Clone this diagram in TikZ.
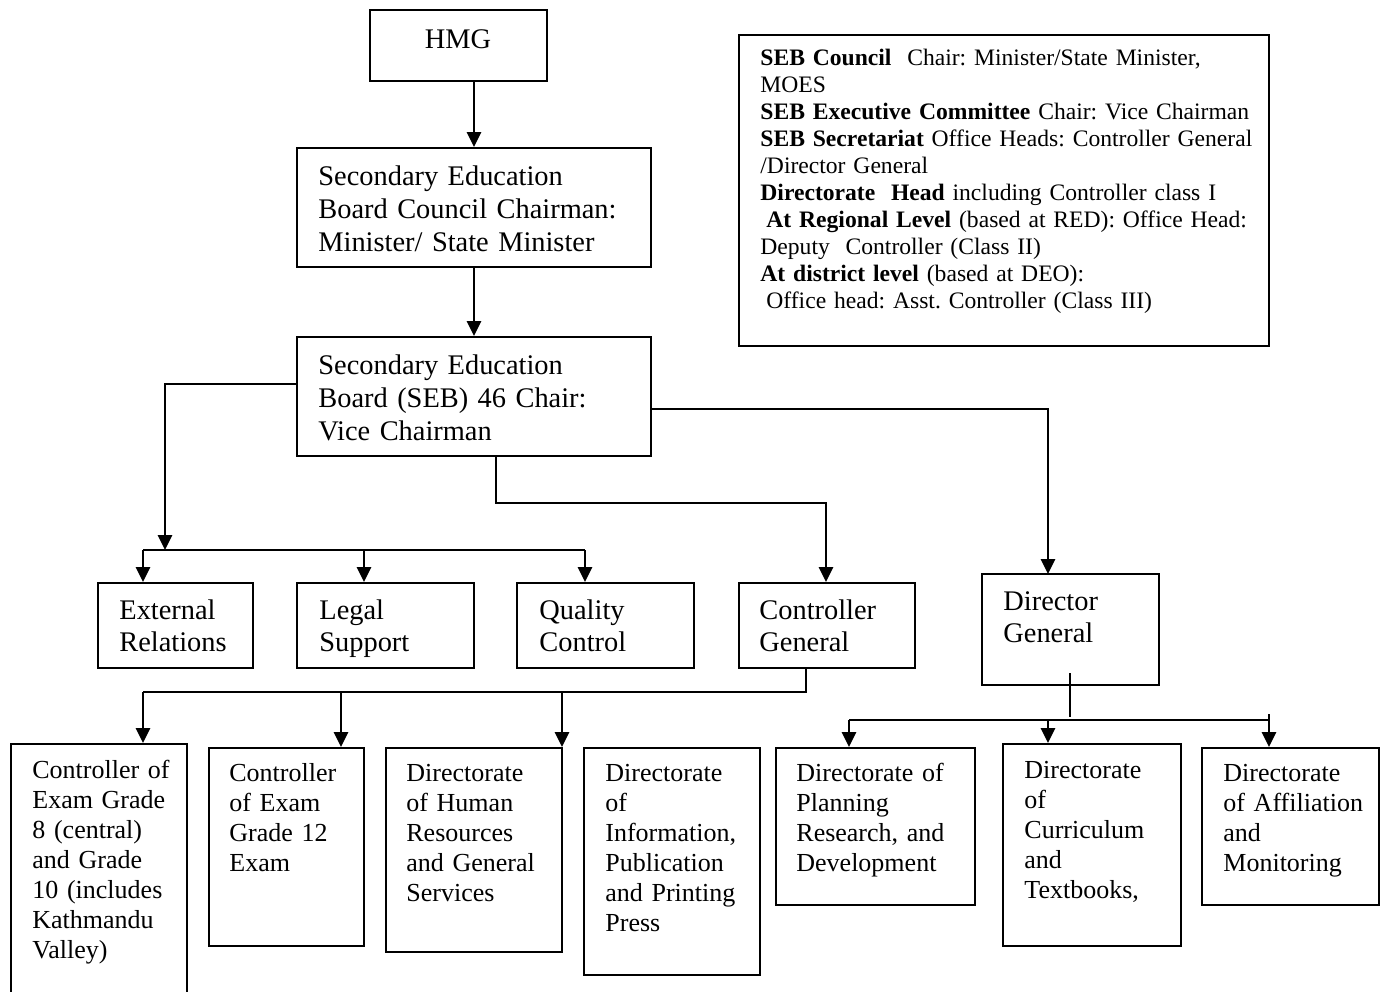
\documentclass[tikz,border=0pt]{standalone}
\usepackage{fontspec}
\setmainfont{Liberation Serif}
\usetikzlibrary{arrows.meta,fit}
\begin{document}
\frenchspacing
\begin{tikzpicture}[x=0.5pt,y=-0.5pt,
  box/.style={draw, line width=1pt, inner sep=0pt},
  conn/.style={line width=1pt},
  arr/.style={conn, -{Triangle[length=7.5pt,width=7.2pt]}},
  bigtxt/.style={inner sep=0pt, anchor=base west, align=left, text width=175pt,
    font=\fontsize{14.2}{16.5}\selectfont\frenchspacing},
  midtxt/.style={inner sep=0pt, anchor=base west, align=left, text width=80pt,
    font=\fontsize{14.2}{16}\selectfont\frenchspacing},
  smalltxt/.style={inner sep=0pt, anchor=base west, align=left, text width=85pt,
    font=\fontsize{13}{15}\selectfont\frenchspacing},
  notetxt/.style={inner sep=0pt, anchor=base west, align=left, text width=255pt,
    font=\fontsize{11.8}{13.5}\selectfont\frenchspacing}
]
\useasboundingbox (0,0) rectangle (1386,991);

% boxes
\node[box, fit={(370,10)(547,81)}] (hmg) {};
\node[box, fit={(297,148)(651,267)}] (council) {};
\node[box, fit={(297,337)(651,456)}] (seb) {};
\node[box, fit={(739,35)(1269,346)}] (note) {};
\node[box, fit={(98,583)(253,668)}] (ext) {};
\node[box, fit={(297,583)(474,668)}] (legal) {};
\node[box, fit={(517,583)(694,668)}] (qual) {};
\node[box, fit={(739,583)(915,668)}] (cg) {};
\node[box, fit={(982,574)(1159,685)}] (dg) {};
\node[box, fit={(11,744)(187,1005)}] (b1) {};
\node[box, fit={(209,748)(364,946)}] (b2) {};
\node[box, fit={(386,748)(562,952)}] (b3) {};
\node[box, fit={(584,748)(760,975)}] (b4) {};
\node[box, fit={(776,748)(975,905)}] (b5) {};
\node[box, fit={(1003,744)(1181,946)}] (b6) {};
\node[box, fit={(1202,748)(1379,905)}] (b7) {};

% texts
\node[inner sep=0pt, anchor=base, font=\fontsize{14.2}{16.5}\selectfont] (hmgT) at (458,48) {HMG};
\node[bigtxt] (councilT) at (318,185) {Secondary Education\\Board Council Chairman:\\Minister/ State Minister};
\node[bigtxt] (sebT) at (318,374) {Secondary Education\\Board (SEB) 46 Chair:\\Vice Chairman};
\node[midtxt] (extT) at (119,619) {External\\Relations};
\node[midtxt] (legalT) at (319,619) {Legal\\Support};
\node[midtxt] (qualT) at (539,619) {Quality\\Control};
\node[midtxt] (cgT) at (759,619) {Controller\\General};
\node[midtxt] (dgT) at (1003,610) {Director\\General};
\node[smalltxt] (b1T) at (32,778) {Controller of\\Exam Grade\\8 (central)\\and Grade\\10 (includes\\Kathmandu\\Valley)};
\node[smalltxt] (b2T) at (229,781) {Controller\\of Exam\\Grade 12\\Exam};
\node[smalltxt] (b3T) at (406,781) {Directorate\\of Human\\Resources\\and General\\Services};
\node[smalltxt] (b4T) at (605,781) {Directorate\\of\\Information,\\Publication\\and Printing\\Press};
\node[smalltxt] (b5T) at (796,781) {Directorate of\\Planning\\Research, and\\Development};
\node[smalltxt] (b6T) at (1024,778) {Directorate\\of\\Curriculum\\and\\Textbooks,};
\node[smalltxt] (b7T) at (1223,781) {Directorate\\of Affiliation\\and\\Monitoring};
\node[notetxt] (noteT) at (760,65) {\textbf{SEB Council}\ \ Chair: Minister/State Minister,\\
MOES\\
\textbf{SEB Executive Committee} Chair: Vice Chairman\\
\textbf{SEB Secretariat} Office Heads: Controller General\\
/Director General\\
\textbf{Directorate\ \ Head} including Controller class I\\
\hspace*{3pt}\textbf{At Regional Level} (based at RED): Office Head:\\
Deputy\ \ Controller (Class II)\\
\textbf{At district level} (based at DEO):\\
\hspace*{3pt}Office head: Asst. Controller (Class III)};

% junction coordinates
\coordinate (sebL) at (297,384);
\coordinate (busA) at (165,550);
\coordinate (busL) at (143,550);
\coordinate (busB) at (364,550);
\coordinate (busR) at (585,550);
\coordinate (sebB) at (496,456);
\coordinate (jCG) at (826,503);
\coordinate (sebR) at (651,409);
\coordinate (dgIn) at (1048,574);
\coordinate (cgB) at (806,668);
\coordinate (bus2L) at (143,692);
\coordinate (bus2B) at (341,692);
\coordinate (bus2C) at (562,692);
\coordinate (dgS) at (1070,673);
\coordinate (dgE) at (1070,717);
\coordinate (bus3L) at (849,720);
\coordinate (bus3B) at (1048,720);
\coordinate (bus3R) at (1269,720);
\coordinate (tick) at (1269,714);

% connectors
\draw[arr] (hmg.south -| council.north) -- (council.north);
\draw[arr] (council.south) -- (seb.north);
\draw[arr] (sebL) -| (busA);
\draw[conn] (busL) -- (busR);
\draw[arr] (busL) -- (busL |- ext.north);
\draw[arr] (busB) -- (busB |- legal.north);
\draw[arr] (busR) -- (busR |- qual.north);
\draw[arr] (sebB) |- (jCG) -- (jCG |- cg.north);
\draw[arr] (sebR) -| (dgIn);
\draw[conn] (cgB) |- (bus2L);
\draw[arr] (bus2L) -- (bus2L |- b1.north);
\draw[arr] (bus2B) -- (bus2B |- b2.north);
\draw[arr] (bus2C) -- (bus2C |- b3.north);
\draw[conn] (dgS) -- (dgE);
\draw[conn] (bus3L) -- (bus3R);
\draw[conn] (tick) -- (bus3R);
\draw[arr] (bus3L) -- (bus3L |- b5.north);
\draw[arr] (bus3B) -- (bus3B |- b6.north);
\draw[arr] (bus3R) -- (bus3R |- b7.north);
\end{tikzpicture}
\end{document}
